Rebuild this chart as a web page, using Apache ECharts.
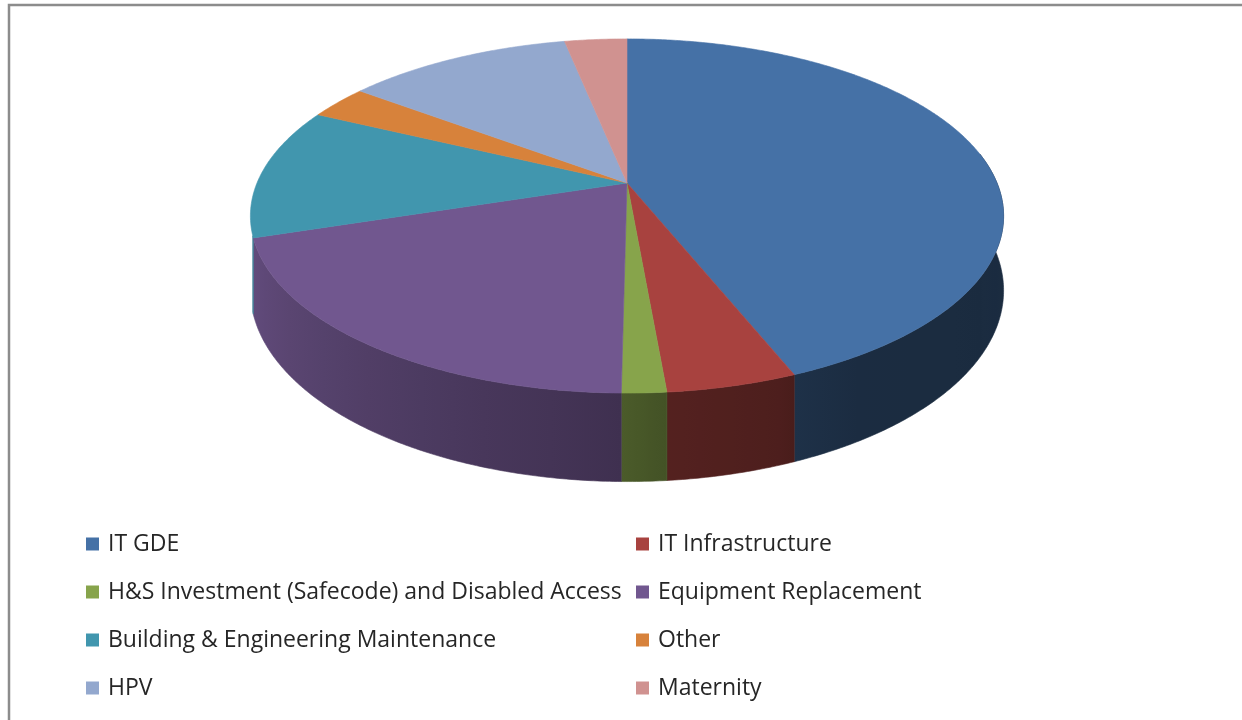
<!DOCTYPE html>
<html>
<head>
<meta charset="utf-8">
<script src="https://cdn.jsdelivr.net/npm/echarts@6/dist/echarts.min.js"></script>
<style>
  html, body { margin: 0; padding: 0; background: #ffffff; }
  #chart { width: 1242px; height: 720px; }
</style>
</head>
<body>
<div id="chart"></div>
<script>
// Capital programme split by category
const categories = [
  'IT GDE',
  'IT Infrastructure',
  'H&S Investment (Safecode) and Disabled Access',
  'Equipment Replacement',
  'Building & Engineering Maintenance',
  'Other',
  'HPV',
  'Maternity'
];
const values = [43.9, 4.7, 1.6, 19.9, 12.0, 3.1, 11.6, 3.2];
const colors = ['#4571a6', '#a8423f', '#87a44b', '#71578f', '#4196ae', '#d7823b', '#93a8ce', '#d09290'];

// Geometry of the tilted disc (perspective view)
const CX = 627, CY = 183, R = 370, DIST = 1986, TILT = 0.462, DEPTH = 72;
const RIM_FROM = 80, RIM_TO = 253;   // visible part of the rim, degrees clockwise from 12 o'clock
const total = values.reduce((a, b) => a + b, 0);
const DEG = Math.PI / 180;

function startAngle(i) {
  let s = 0;
  for (let j = 0; j < i; j++) s += values[j];
  return s / total * 2 * Math.PI;
}
// angle measured clockwise from 12 o'clock; drop = vertical offset for the rim bottom
function proj(t, drop) {
  const x = R * Math.sin(t), z = -R * Math.cos(t);
  const k = DIST / (DIST - z);
  return [CX + x * k, CY + z * TILT * k + drop * k];
}
// rim brightness by direction (lit from the left)
const shadeStops = [[60, 0.38], [155, 0.39], [160, 0.46], [175, 0.50], [181, 0.56], [190, 0.60], [250, 0.86], [300, 0.9]];
function shadeFactor(deg) {
  if (deg <= shadeStops[0][0]) return shadeStops[0][1];
  for (let i = 1; i < shadeStops.length; i++) {
    const [a1, f1] = shadeStops[i], [a0, f0] = shadeStops[i - 1];
    if (deg <= a1) return f0 + (f1 - f0) * (deg - a0) / (a1 - a0);
  }
  return shadeStops[shadeStops.length - 1][1];
}
function darken(hex, f) {
  const n = parseInt(hex.slice(1), 16);
  const r = Math.round(((n >> 16) & 255) * f), g = Math.round(((n >> 8) & 255) * f), b = Math.round((n & 255) * f);
  return 'rgb(' + r + ',' + g + ',' + b + ')';
}

function renderRim(params, api) {
  const i = params.dataIndex;
  const a0 = startAngle(i);
  const a1 = a0 + api.value(0) / total * 2 * Math.PI;
  const s = Math.max(a0, RIM_FROM * DEG), e = Math.min(a1, RIM_TO * DEG);
  if (e <= s) return null;
  const n = Math.max(2, Math.ceil((e - s) / (0.5 * DEG)));
  const top = [], bottom = [], samples = [];
  for (let k = 0; k <= n; k++) {
    const t = s + (e - s) * k / n;
    top.push(proj(t, 0));
    bottom.push(proj(t, DEPTH));
  }
  let xmin = Infinity, xmax = -Infinity;
  top.concat(bottom).forEach(p => { xmin = Math.min(xmin, p[0]); xmax = Math.max(xmax, p[0]); });
  const m = 8;
  for (let k = 0; k <= m; k++) {
    const t = s + (e - s) * k / m;
    const x = proj(t, 0)[0];
    samples.push({ offset: Math.min(1, Math.max(0, (x - xmin) / Math.max(1, xmax - xmin))), color: darken(colors[i], shadeFactor(t / DEG)) });
  }
  samples.sort((a, b) => a.offset - b.offset);
  const fill = new echarts.graphic.LinearGradient(0, 0, 1, 0, samples);
  return {
    type: 'polygon',
    shape: { points: top.concat(bottom.reverse()) },
    style: { fill: fill, stroke: fill, lineWidth: 0.6 }
  };
}

function makeTopRenderer(i) {
  return function (params, api) {
    const a0 = startAngle(i);
    const a1 = a0 + api.value(0) / total * 2 * Math.PI;
    const pts = [[CX, CY]];
    const n = Math.max(2, Math.ceil((a1 - a0) / (0.5 * DEG)));
    for (let k = 0; k <= n; k++) pts.push(proj(a0 + (a1 - a0) * k / n, 0));
    return {
      type: 'polygon',
      shape: { points: pts },
      style: { fill: colors[i], stroke: colors[i], lineWidth: 0.6 }
    };
  };
}

const series = [{
  type: 'custom',
  name: 'rim',
  coordinateSystem: 'none',
  z: 1,
  silent: true,
  data: values.map(v => [v]),
  renderItem: renderRim
}];
categories.forEach((name, i) => {
  series.push({
    type: 'custom',
    name: name,
    coordinateSystem: 'none',
    z: 2,
    silent: true,
    itemStyle: { color: colors[i] },
    data: [[values[i]]],
    renderItem: makeTopRenderer(i)
  });
});

const legendText = { fontFamily: 'Open Sans', fontSize: 23, color: '#262626', lineHeight: 24, padding: [0, 0, 0, 4] };
const legendBase = {
  orient: 'vertical', top: 532, padding: 0, icon: 'rect',
  itemWidth: 13, itemHeight: 13, itemGap: 24, selectedMode: false,
  textStyle: legendText
};

const chart = echarts.init(document.getElementById('chart'), null, { renderer: 'canvas' });
chart.setOption({
  animation: false,
  backgroundColor: '#ffffff',
  legend: [
    Object.assign({}, legendBase, { left: 86, data: categories.filter((_, i) => i % 2 === 0) }),
    Object.assign({}, legendBase, { left: 636, data: categories.filter((_, i) => i % 2 === 1) })
  ],
  graphic: [{
    type: 'rect', silent: true,
    shape: { x: 9, y: 5, width: 1300, height: 800 },
    style: { fill: 'none', stroke: '#8c8c8c', lineWidth: 2.5 }
  }],
  series: series
});
</script>
</body>
</html>
